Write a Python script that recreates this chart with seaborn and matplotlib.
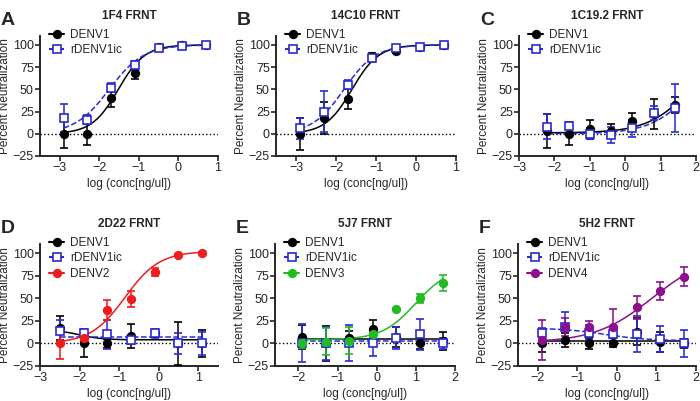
import numpy as np
import pandas as pd
import matplotlib
matplotlib.use('Agg')
import matplotlib.pyplot as plt
from matplotlib.lines import Line2D
import seaborn as sns

# ================= data =================
x_a = [-2.9, -2.3, -1.7, -1.1, -0.5, 0.1, 0.7]
a_denv1 = [0, 0, 40, 68, 98, 100, 100]
a_denv1_err = [16, 13, 10, 6, 2, 1, 1]
a_ric = [18, 16, 52, 77, 96, 99, 100]
a_ric_err = [16, 5, 5, 5, 2, 1, 1]

x_b = [-2.9, -2.3, -1.7, -1.1, -0.5, 0.1, 0.7]
b_denv1 = [0, 18, 39, 88, 93, 98, 100]
b_denv1_err = [18, 18, 11, 3, 2, 1, 1]
b_ric = [6, 25, 55, 85, 97, 98, 100]
b_ric_err = [12, 23, 5, 4, 1, 1, 1]

x_c = [-2.2, -1.6, -1.0, -0.4, 0.2, 0.8, 1.4]
c_denv1 = [3, 0, 5, 3, 14, 22, 32]
c_denv1_err = [19, 13, 11, 8, 9, 17, 9]
c_ric = [8, 9, 0, -1, 6, 23, 29]
c_ric_err = [14, 4, 6, 9, 10, 8, 27]

x_d = [-2.5, -1.9, -1.3, -0.7, -0.1, 0.5, 1.1]
d_denv1 = [17, 0, 0, 8, 11, 0, 0]
d_denv1_err = [13, 15, 5, 13, 3, 24, 15]
d_ric = [14, 11, 10, 4, 11, 0, 0]
d_ric_err = [12, 5, 16, 5, 5, 12, 13]
d_denv2 = [0, 6, 37, 49, 79, 98, 100]
d_denv2_err = [17, 3, 11, 9, 4, 1, 1]

x_e = [-1.9, -1.3, -0.7, -0.1, 0.5, 1.1, 1.7]
e_denv1 = [7, 0, 6, 16, 7, 0, 3]
e_denv1_err = [13, 19, 8, 10, 11, 6, 10]
e_ric = [0, 0, 0, 0, 6, 10, 0]
e_ric_err = [21, 18, 20, 14, 12, 17, 6]
e_denv3 = [0, 2, 3, 10, 38, 50, 67]
e_denv3_err = [5, 15, 15, 5, 1, 5, 9]

x_f = [-1.9, -1.3, -0.7, -0.1, 0.5, 1.1, 1.7]
f_denv1 = [0, 4, 0, 1, 13, 2, 0]
f_denv1_err = [10, 8, 6, 5, 15, 11, 5]
f_ric = [12, 18, 12, 10, 10, 5, 0]
f_ric_err = [5, 17, 8, 4, 20, 14, 15]
f_denv4 = [4, 18, 18, 18, 40, 58, 74]
f_denv4_err = [22, 10, 7, 20, 13, 10, 10]

# 4PL fit parameters (bottom, top, logEC50, hill)
fit_a = {'DENV1': (0, 100, -1.52, 1.3), 'rDENV1ic': (0, 100, -1.75, 1.0)}
fit_b = {'DENV1': (0, 100, -1.6, 1.3), 'rDENV1ic': (0, 100, -1.8, 1.1)}
fit_c = {'DENV1': (1, 100, 1.87, 0.7), 'rDENV1ic': (0, 100, 1.95, 0.72)}
fit_d = {'DENV1': (4, 15, -2.0, -1.5), 'rDENV1ic': (7, 7.01, 0, 1), 'DENV2': (0, 102, -0.85, 1.0)}
fit_e = {'DENV1': (5, 5.01, 0, 1), 'rDENV1ic': (3, 3.01, 0, 1), 'DENV3': (4, 85, 1.0, 1.0)}
fit_f = {'DENV1': (3, 3.01, 0, 1), 'rDENV1ic': (3, 17, -0.3, -0.8), 'DENV4': (1, 100, 0.9, 0.6)}

COLORS = {'DENV1': 'black', 'rDENV1ic': '#2a2ad4', 'DENV2': '#ee1c1c',
          'DENV3': '#22bb22', 'DENV4': '#8b108b'}

sns.set_style('ticks')
plt.rcParams['font.family'] = ['Liberation Sans', 'DejaVu Sans']


def four_pl(x, p):
    bottom, top, ec50, hill = p
    return bottom + (top - bottom) / (1 + 10 ** ((ec50 - x) * hill))


def draw_panel(ax, letter, title, x, series, fits, xlim, xticks):
    for name, y, err in series:
        col = COLORS[name]
        is_ric = name == 'rDENV1ic'
        xs = np.linspace(min(x), max(x), 200)
        curve = pd.DataFrame({'x': xs, 'y': four_pl(xs, fits[name])})
        sns.lineplot(data=curve, x='x', y='y', ax=ax, color=col, lw=1.1,
                     linestyle='--' if is_ric else '-', zorder=2)
        ax.errorbar(x, y, yerr=err, fmt='s' if is_ric else 'o', color=col,
                    mfc='white' if is_ric else col, mec=col, ms=5.5, mew=1.2,
                    elinewidth=1.1, capsize=3, capthick=1.1, zorder=3)
    ax.axhline(0, color='black', ls=':', lw=1, zorder=1)
    ax.set_xlim(xlim)
    ax.set_ylim(-25, 110)
    ax.set_xticks(xticks)
    ax.set_yticks([-25, 0, 25, 50, 75, 100])
    ax.set_xlabel('log (conc[ng/ul])', fontsize=8.5, labelpad=3)
    ax.set_ylabel('Percent Neutralization', fontsize=8.5, labelpad=1)
    ax.tick_params(labelsize=9, width=1.2, length=3.5, pad=1)
    for s in ['left', 'bottom']:
        ax.spines[s].set_linewidth(1.4)
    sns.despine(ax=ax)
    ax.set_title(title, fontsize=8.5, fontweight='bold', pad=12)
    ax.text(-0.22, 1.2, letter, transform=ax.transAxes, fontsize=14,
            fontweight='bold', va='top', ha='left')
    handles = []
    for name, y, err in series:
        col = COLORS[name]
        is_ric = name == 'rDENV1ic'
        handles.append(Line2D([], [], color=col, ls='--' if is_ric else '-',
                              marker='s' if is_ric else 'o',
                              mfc='white' if is_ric else col, mec=col, ms=5.5, mew=1.2))
    ax.legend(handles, [s[0] for s in series], loc='upper left', frameon=False,
              fontsize=8.5, handlelength=1.3, handletextpad=0.5, borderaxespad=0,
              borderpad=0, bbox_to_anchor=(0.05, 1.06), labelspacing=0.3)


fig = plt.figure(figsize=(7, 4.01), dpi=100)
W, H = 700, 401


def add_axes(x0, x1, ytop, ybot):
    return fig.add_axes([x0 / W, (H - ybot) / H, (x1 - x0) / W, (ybot - ytop) / H])


axA = add_axes(40, 218, 36, 156)
axB = add_axes(276, 456, 36, 156)
axC = add_axes(519, 696, 36, 156)
axD = add_axes(40, 218, 244, 366)
axE = add_axes(275, 455, 244, 366)
axF = add_axes(518, 696, 244, 366)

draw_panel(axA, 'A', '1F4 FRNT', x_a,
           [('DENV1', a_denv1, a_denv1_err), ('rDENV1ic', a_ric, a_ric_err)],
           fit_a, (-3.5, 1), [-3, -2, -1, 0, 1])
draw_panel(axB, 'B', '14C10 FRNT', x_b,
           [('DENV1', b_denv1, b_denv1_err), ('rDENV1ic', b_ric, b_ric_err)],
           fit_b, (-3.5, 1), [-3, -2, -1, 0, 1])
draw_panel(axC, 'C', '1C19.2 FRNT', x_c,
           [('DENV1', c_denv1, c_denv1_err), ('rDENV1ic', c_ric, c_ric_err)],
           fit_c, (-3, 2), [-3, -2, -1, 0, 1, 2])
draw_panel(axD, 'D', '2D22 FRNT', x_d,
           [('DENV1', d_denv1, d_denv1_err), ('rDENV1ic', d_ric, d_ric_err),
            ('DENV2', d_denv2, d_denv2_err)],
           fit_d, (-3, 1.5), [-3, -2, -1, 0, 1])
draw_panel(axE, 'E', '5J7 FRNT', x_e,
           [('DENV1', e_denv1, e_denv1_err), ('rDENV1ic', e_ric, e_ric_err),
            ('DENV3', e_denv3, e_denv3_err)],
           fit_e, (-2.6, 2), [-2, -1, 0, 1, 2])
draw_panel(axF, 'F', '5H2 FRNT', x_f,
           [('DENV1', f_denv1, f_denv1_err), ('rDENV1ic', f_ric, f_ric_err),
            ('DENV4', f_denv4, f_denv4_err)],
           fit_f, (-2.5, 2), [-2, -1, 0, 1, 2])

fig.savefig('out.png', dpi=100)
